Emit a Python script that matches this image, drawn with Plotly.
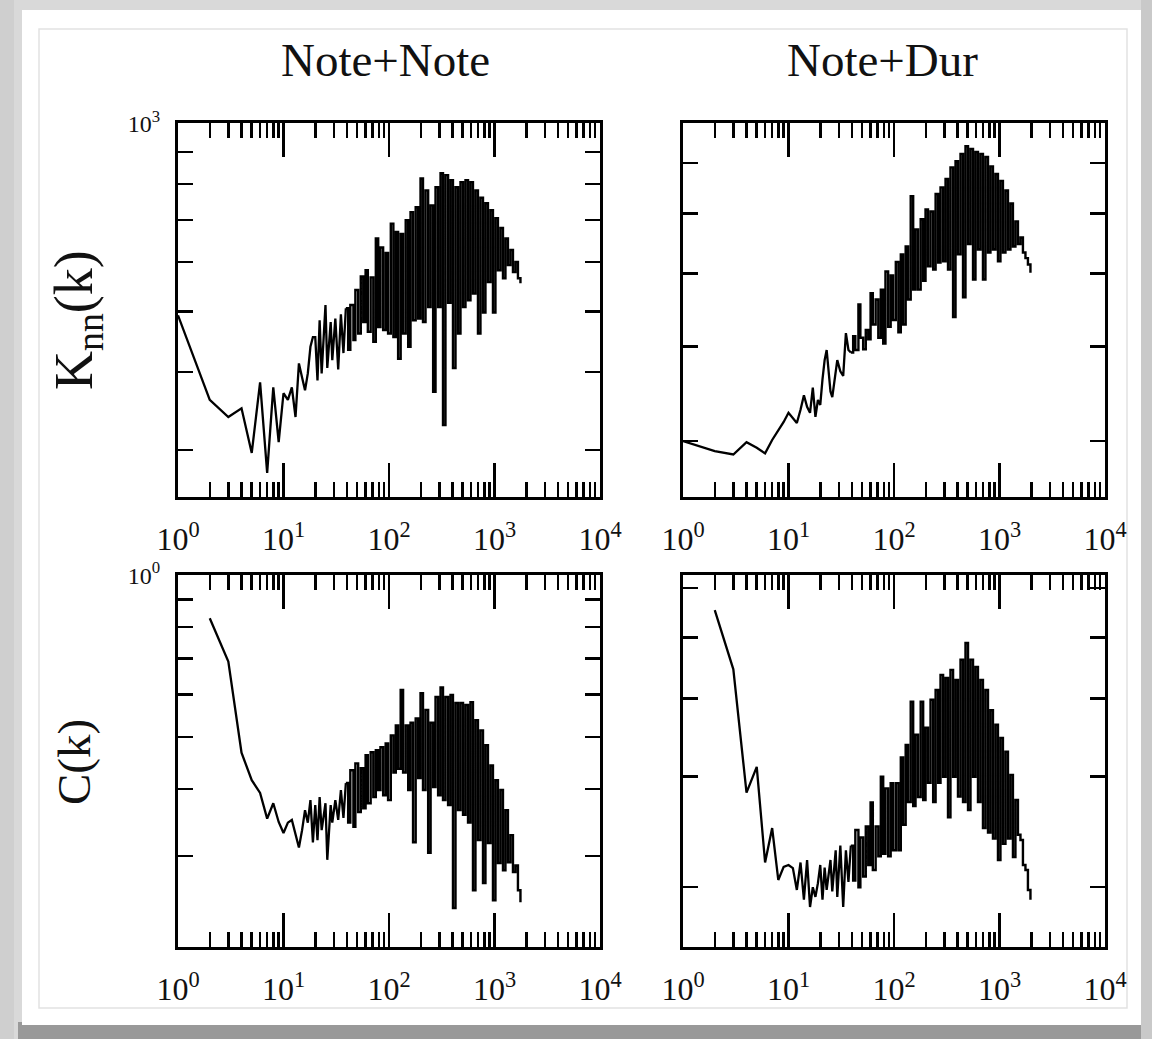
import math
import plotly.graph_objects as go

# ---------------- data ----------------
K_SPARSE = [1, 2, 3, 4, 5, 6, 7, 8, 9, 10, 11, 12, 13, 14, 15, 16, 17, 18, 19]
K_GRID = [20, 21, 22, 23, 25, 26, 28, 29, 31, 33, 35, 37, 39, 41, 43, 46, 48, 51, 54, 57,
          60, 63, 67, 71, 75, 79, 83, 88, 93, 98, 104, 110, 116, 122, 129, 136, 144, 152, 160, 169,
          179, 189, 199, 210, 222, 235, 248, 262, 276, 292, 308, 325, 343, 363, 383, 404, 427, 451, 476, 503,
          531, 561, 592, 625, 660, 697, 736, 778, 821, 867, 916, 967, 1021, 1078, 1139, 1203, 1270, 1341, 1416, 1496,
          1580, 1668, 1762, 1860, 1965]

# Note+Note, Knn(k)  (k = 1..19, then K_GRID)
knn_nn_sparse = [493, 361, 339, 350, 297, 385, 276, 378, 309, 370, 361, 378, 339, 413, 392, 374, 398, 439, 455]
knn_nn_dense = [455, 388, 484, 398, 512, 406, 481, 418, 487, 404,
                495, 429, 506, 434, 512, 450, 541, 461, 569, 481,
                582, 464, 567, 447, 654, 472, 633, 467, 620, 461,
                691, 455, 670, 420, 665, 461, 700, 439, 721, 484,
                734, 487, 816, 481, 781, 508, 739, 372, 790, 508,
                832, 329, 826, 516, 811, 406, 790, 461, 805, 508,
                811, 521, 805, 534, 781, 461, 760, 498, 745, 557,
                726, 498, 705, 582, 680, 565, 654, 593, 627, 578,
                600, 565, 555]

# Note+Dur, Knn(k)  (k = 1..19, then K_GRID)
knn_nd_sparse = [300, 291, 288, 299, 294, 289, 301, 310, 318, 327, 322, 317, 330, 345, 333, 327, 353, 323, 340]
knn_nd_dense = [335, 362, 384, 396, 349, 343, 373, 384, 371, 366,
                417, 396, 393, 413, 396, 455, 411, 397, 421, 409,
                471, 428, 462, 411, 476, 404, 503, 425, 497, 434,
                518, 418, 530, 428, 543, 462, 633, 476, 572, 476,
                590, 489, 608, 511, 604, 506, 637, 517, 650, 519,
                667, 506, 691, 438, 704, 530, 720, 465, 737, 547,
                731, 491, 724, 538, 720, 491, 713, 533, 693, 538,
                677, 519, 663, 533, 644, 538, 619, 543, 586, 547,
                558, 533, 524, 514, 501]

# Note+Note, C(k)  (k = 2..19, then K_GRID)
c_nn_sparse = [0.831, 0.69, 0.467, 0.415, 0.393, 0.352, 0.376, 0.347, 0.331, 0.346,
               0.350, 0.331, 0.311, 0.335, 0.365, 0.346, 0.381, 0.318]
c_nn_dense = [0.373, 0.321, 0.386, 0.335, 0.376, 0.295, 0.373, 0.346, 0.381, 0.350,
              0.398, 0.353, 0.410, 0.346, 0.433, 0.340, 0.446, 0.362, 0.437, 0.368,
              0.462, 0.376, 0.468, 0.386, 0.472, 0.398, 0.478, 0.389, 0.486, 0.381,
              0.503, 0.429, 0.525, 0.436, 0.611, 0.429, 0.525, 0.398, 0.531, 0.318,
              0.541, 0.419, 0.603, 0.398, 0.561, 0.304, 0.531, 0.403, 0.593, 0.389,
              0.618, 0.381, 0.593, 0.373, 0.598, 0.240, 0.578, 0.365, 0.578, 0.358,
              0.573, 0.346, 0.580, 0.259, 0.537, 0.321, 0.514, 0.267, 0.482, 0.317,
              0.442, 0.248, 0.415, 0.291, 0.398, 0.282, 0.365, 0.292, 0.328, 0.280,
              0.288, 0.259, 0.246]

# Note+Dur, C(k)  (k = 2..19, then K_GRID)
c_nd_sparse = [0.553, 0.445, 0.283, 0.311, 0.219, 0.2485, 0.2054, 0.2155, 0.217, 0.2145,
               0.198, 0.219, 0.191, 0.221, 0.186, 0.200, 0.193, 0.203]
c_nd_dense = [0.217, 0.191, 0.215, 0.198, 0.221, 0.197, 0.229, 0.193, 0.233, 0.186,
              0.229, 0.204, 0.233, 0.205, 0.2467, 0.200, 0.240, 0.208, 0.250, 0.217,
              0.273, 0.213, 0.250, 0.224, 0.300, 0.226, 0.2875, 0.224, 0.293, 0.229,
              0.293, 0.229, 0.322, 0.2515, 0.337, 0.2735, 0.395, 0.2695, 0.350, 0.2785,
              0.395, 0.2755, 0.359, 0.2935, 0.398, 0.2735, 0.4125, 0.2935, 0.436, 0.300,
              0.431, 0.2585, 0.444, 0.300, 0.428, 0.279, 0.461, 0.2735, 0.490, 0.2655,
              0.461, 0.300, 0.449, 0.2735, 0.428, 0.2485, 0.4125, 0.2445, 0.383, 0.239,
              0.363, 0.221, 0.346, 0.2345, 0.329, 0.239, 0.302, 0.2235, 0.2755, 0.2425,
              0.2378, 0.217, 0.2131, 0.198, 0.191]

col_titles = ["Note+Note", "Note+Dur"]
row_titles = ["K<sub>nn</sub>(k)", "C(k)"]
x_tickvals = [1, 10, 100, 1000, 10000]
x_ticktext = ["10<sup>0</sup>", "10<sup>1</sup>", "10<sup>2</sup>", "10<sup>3</sup>", "10<sup>4</sup>"]
x_minor = [m * d for d in (1, 10, 100, 1000) for m in range(2, 10)]

y_ticks_tl = [300, 400, 500, 600, 700, 800, 900, 1000]
y_text_tl = [""] * 7 + ["10<sup>3</sup>"]
y_ticks_tr = [300, 400, 500, 600, 700]
y_ticks_bl = [0.2, 0.3, 0.4, 0.5, 0.6, 0.7, 0.8, 0.9, 1.0]
y_text_bl = [""] * 8 + ["10<sup>0</sup>"]
y_ticks_br = [0.2, 0.3, 0.4, 0.5, 0.6]

# ---------------- layout helpers ----------------
W, H = 1152, 1039
FONT = "Liberation Serif"
SPLIT = 12  # index in K_GRID where the line becomes a dense fluctuating band


def px(x):
    return x / W


def py(y):
    return 1 - y / H


fig = go.Figure()

panels = [
    (K_SPARSE, knn_nn_sparse, knn_nn_dense, "x", "y"),
    (K_SPARSE, knn_nd_sparse, knn_nd_dense, "x2", "y2"),
    (K_SPARSE[1:], c_nn_sparse, c_nn_dense, "x3", "y3"),
    (K_SPARSE[1:], c_nd_sparse, c_nd_dense, "x4", "y4"),
]
for ks, sparse, dense, xa, ya in panels:
    # low-degree part: a single jagged line
    fig.add_trace(go.Scatter(x=ks + K_GRID[:SPLIT + 1], y=sparse + dense[:SPLIT + 1],
                             mode="lines", xaxis=xa, yaxis=ya,
                             line=dict(color="black", width=2.3),
                             showlegend=False, hoverinfo="skip"))
    # high-degree part: strongly fluctuating values (dense vertical strokes)
    fig.add_trace(go.Scatter(x=K_GRID[SPLIT:len(dense)], y=dense[SPLIT:], mode="lines",
                             xaxis=xa, yaxis=ya,
                             line=dict(color="black", width=2.4, shape="hv"),
                             showlegend=False, hoverinfo="skip"))

xdom_l = [px(178), px(600)]
xdom_r = [px(683), px(1105)]
ydom_t = [py(497), py(123)]
ydom_b = [py(947), py(575)]


def xaxis(dom, anchor):
    return dict(domain=dom, anchor=anchor, type="log", range=[0, 4], automargin=False,
                showgrid=False, zeroline=False, showline=True, linecolor="black",
                linewidth=3, mirror="allticks", ticks="inside", ticklen=34,
                tickwidth=2.5, tickcolor="black", tickmode="array",
                tickvals=x_tickvals, ticktext=x_ticktext, ticklabelstandoff=12,
                tickfont=dict(family=FONT, size=32, color="#111"),
                minor=dict(tickmode="array", tickvals=x_minor, ticks="inside",
                           ticklen=15, tickwidth=2.5, tickcolor="black", showgrid=False))


def yaxis(dom, anchor, rng, vals, text):
    return dict(domain=dom, anchor=anchor, type="log", range=rng, automargin=False,
                showgrid=False, zeroline=False, showline=True, linecolor="black",
                linewidth=3, mirror="allticks", ticks="inside", ticklen=15,
                tickwidth=2.5, tickcolor="black", tickmode="array",
                tickvals=vals, ticktext=text, ticklabelstandoff=10,
                tickfont=dict(family=FONT, size=24, color="#111"))


fig.update_layout(
    width=W, height=H, autosize=False,
    margin=dict(l=0, r=0, t=0, b=0, pad=0, autoexpand=False),
    paper_bgcolor="#d9d9d9", plot_bgcolor="white",
    xaxis=xaxis(xdom_l, "y"),
    xaxis2=xaxis(xdom_r, "y2"),
    xaxis3=xaxis(xdom_l, "y3"),
    xaxis4=xaxis(xdom_r, "y4"),
    yaxis=yaxis(ydom_t, "x", [math.log10(252.5), 3.0004], y_ticks_tl, y_text_tl),
    yaxis2=yaxis(ydom_t, "x2", [math.log10(253), math.log10(791)], y_ticks_tr, [""] * 5),
    yaxis3=yaxis(ydom_b, "x3", [math.log10(0.203), 0.0002], y_ticks_bl, y_text_bl),
    yaxis4=yaxis(ydom_b, "x4", [math.log10(0.1606), math.log10(0.629)], y_ticks_br, [""] * 5),
)

shapes = [
    dict(type="rect", xref="paper", yref="paper", x0=0, x1=px(14), y0=0, y1=1,
         fillcolor="#cfcfcf", line=dict(width=0), layer="below"),
    dict(type="rect", xref="paper", yref="paper", x0=px(18), x1=1, y0=0, y1=py(1022),
         fillcolor="#999999", line=dict(width=0), layer="below"),
    dict(type="rect", xref="paper", yref="paper", x0=px(1141), x1=1, y0=0, y1=1,
         fillcolor="#c9c9c9", line=dict(width=0), layer="below"),
    dict(type="rect", xref="paper", yref="paper", x0=px(22), x1=px(1141), y0=py(1025), y1=py(10),
         fillcolor="white", line=dict(width=0), layer="below"),
    dict(type="rect", xref="paper", yref="paper", x0=px(39), x1=px(1127), y0=py(1008), y1=py(29),
         fillcolor="rgba(0,0,0,0)", line=dict(color="#e2e2e2", width=1.5), layer="below"),
]
fig.update_layout(shapes=shapes)

annotations = [
    dict(text=col_titles[0], x=px(385), y=py(60), xref="paper", yref="paper",
         showarrow=False, xanchor="center", yanchor="middle",
         font=dict(family=FONT, size=47, color="#111")),
    dict(text=col_titles[1], x=px(882), y=py(60), xref="paper", yref="paper",
         showarrow=False, xanchor="center", yanchor="middle",
         font=dict(family=FONT, size=47, color="#111")),
    dict(text=row_titles[0], x=px(77), y=py(320), xref="paper", yref="paper",
         showarrow=False, xanchor="center", yanchor="middle", textangle=-90,
         font=dict(family=FONT, size=54, color="#111")),
    dict(text=row_titles[1], x=px(74), y=py(762), xref="paper", yref="paper",
         showarrow=False, xanchor="center", yanchor="middle", textangle=-90,
         font=dict(family=FONT, size=47, color="#111")),
]
fig.update_layout(annotations=annotations)

fig.write_html("out.html",
               config={"displayModeBar": False, "staticPlot": True},
               post_script="document.body.style.margin='0px';"
                           "document.documentElement.style.margin='0px';")
